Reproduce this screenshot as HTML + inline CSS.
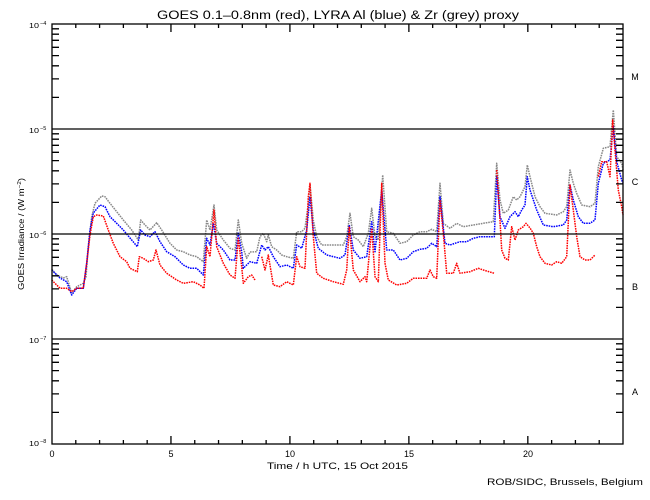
<!DOCTYPE html>
<html><head><meta charset="utf-8"><style>
html,body{margin:0;padding:0;background:#fff;}
svg{display:block;}
text{font-family:"Liberation Sans",sans-serif;fill:#000;}
</style></head><body>
<svg width="650" height="500" viewBox="0 0 650 500" xmlns="http://www.w3.org/2000/svg">
<rect x="0" y="0" width="650" height="500" fill="#fff"/>
<text x="157" y="19" font-size="11.5" textLength="362" lengthAdjust="spacingAndGlyphs">GOES 0.1–0.8nm (red), LYRA Al (blue) &amp; Zr (grey) proxy</text>

<g fill="none" stroke-linejoin="round" stroke-width="1.5" stroke-dasharray="1.6,0.9">
<polyline stroke="#888" points="51.7,269 56.7,275 63.3,278 66.7,276.7 71.7,293 76.7,286.7 83.3,283.3 86,276.7 88.3,246.7 91.7,216.7 95,203.3 101.7,196 105,196.7 110,203.3 116.7,211.7 123.3,220 131.7,230 138.3,240 140.7,220 145,225 150,230 156.7,222.7 161.7,230 170,243.3 176.7,250 183.3,251.7 190,255 196.7,256.7 203.3,261.7 206.7,220 210,230 214,205 216.7,230 223.3,240 230,248.3 235,250 238.3,220 241.7,243.3 246.7,258.3 250,252 256.7,251.7 260,236.7 263.3,233.3 266.7,241.7 268.3,235 271.7,246.7 276.7,250 281.7,255 286.7,256.7 293.3,258.3 296.7,231.7 301.7,231.7 305,228.3 308.3,203.3 310,185 313.3,220 316.7,236.7 321.7,245 333.3,245 343.3,245 346.7,236.7 350,213.3 353.3,236.7 358.3,240 363.3,246.7 368.3,233.3 371.7,208.3 375,236.7 378.3,240 382.7,175 386.7,231.7 393.3,233.3 400,243.3 406.7,241.7 413.3,235 420,231.7 426.7,231.7 431.7,229.3 436.7,231.7 440,183.3 443.3,223.3 450,228.3 456.7,223.3 463.3,226.7 473.3,225 483.3,223.3 493.3,221.7 496.7,163.3 500,200 503.3,213.3 508.3,210 513.3,196.7 516.7,200 520,196.7 525,186.7 527.3,165 530,176.7 535,196.7 540,206.7 545,213.3 556.7,215 563.3,211.7 566.7,206.7 570,170 573.3,183.3 576.7,193.3 581.7,205 590,206.7 595,203.3 598.3,166.7 603.3,148.3 610,146.7 613.3,110 616.7,156.7 621.7,163.3 623,170"/>
<polyline stroke="#00f" points="51.7,270 60,278 66.7,281.7 71.7,295 76.7,288.3 83.3,288.3 86.7,263 90,230 93.3,213 100,205 105,206.7 110,216.7 116.7,223.3 123.3,230 131.7,240 137.3,246.7 140.7,230 145,235 150,236.7 155,231.7 160,241.7 166.7,251.7 175,256.7 183.3,265 190,268.3 196.7,268.3 203.3,275 206.7,238.3 210,245 213.3,223.3 216.7,243.3 223.3,250 230,260 235,260 238.3,233.3 241.7,251.7 243.3,268.3 250,261.7 256.7,263.3 261.7,245 265,250 268.3,246.7 273.3,256.7 280,266.7 286.7,265 293.3,268.3 296.7,245 301.7,248.3 306.7,230 310,196.7 313.3,230 318.3,248.3 326.7,255 340,258.3 345,255 349.3,225 353.3,250 360,258.3 366.7,256.7 371.7,221.7 375,251.7 381.7,190 386.7,250 393.3,250 400,260 406.7,258.3 413.3,251.7 420,249.3 426.7,248.3 431.7,243.3 436.7,246.7 440,196.7 445,243.3 450,245 455,243.3 460,241.7 466.7,241.7 473.3,238.3 480,236.7 486.7,236.7 494.3,236.7 496.7,176.7 500,216.7 505,228.3 510,216.7 515,211.7 518.3,216.7 521.7,210 525,205 527.3,176.7 530,190 536.7,210 543.3,225 553.3,226.7 563.3,225 566.7,220 570,185 573.3,200 578.3,216.7 583.3,223.3 590,223.3 595,220 598.3,183.3 603.3,163.3 610,160 613.3,126.7 616.7,161.7 621.7,180 623,183.3"/>
<polyline stroke="#f00" points="51.7,280 60,288.3 66.7,288.3 71.7,291.7 76.7,288.3 83.3,288.3 86.7,263.3 90,235 93.3,216.7 96.7,215 103.3,216 108.3,230 113.3,243.3 120,256.7 126.7,261.7 130,268.3 137.3,271.7 139.3,256.7 143.3,258.3 148.3,261.7 153.3,260 156,250 160,265 166.7,273.3 176.7,280 183.3,283.3 193.3,281.7 200,285 204,288.3 206.7,246.7 210,256.7 214,210 216.7,246.7 223.3,263.3 230,275 235,278.3 238.3,238.3 241.7,266.7 243.3,283.3 248.3,276.7 251.7,275 255,280"/>
<polyline stroke="#f00" points="261.7,256.7 265,270 268.3,255 273.3,285 280,286.7 286.7,281.7 293.3,285 296.7,256.7 300,266.7 305,268.3 308.3,196.7 310,183.3 313.3,236.7 316.7,273.3 323.3,278.3 333.3,281.7 343.3,284.3 346.7,270 349.3,226.7 353.3,270 360,281.7 365,276.7 366.7,281.7 371.7,228.3 375,276.7 378.3,281.7 381.7,183.3 385,263.3 388.3,280 396.7,285 406.7,283.3 413.3,278.3 420,278.3 426.7,278.3 430,270 433.3,276.7 436.7,278.3 440,200 443.3,233.3 446.7,273.3 453.3,273.3 456.7,263.3 460,273.3 470,271.7 478.3,268.3 483.3,270 494.3,273.3"/>
<polyline stroke="#f00" points="496.7,170 500,220 501.7,250 505,258.3 508.3,260 511.7,226.7 515,240 518.3,230 523.3,226.7 526,223.3 530,228 533.3,233.3 536.7,246.7 540,256.7 545,263.3 551.7,265 556.7,261.7 561.7,263.3 566.7,256.7 570,185 573.3,210 576.7,236.7 580,256.7 585,260 590,260 595,255"/>
<polyline stroke="#f00" points="598.3,176.7 601.7,161.7 606.7,161.7 610,176.7 612.7,120 615,150 618.3,190 621.7,206.7 623,215"/>
</g>

<g stroke="#000" stroke-width="1.3" fill="none">
<rect x="52" y="24" width="571" height="420"/>
<line x1="52" y1="129" x2="623" y2="129"/>
<line x1="52" y1="234" x2="623" y2="234"/>
<line x1="52" y1="339" x2="623" y2="339"/>
<path d="M75.79,444v-4M99.58,444v-4M123.38,444v-4M147.17,444v-4M194.75,444v-4M218.54,444v-4M242.33,444v-4M266.13,444v-4M313.71,444v-4M337.5,444v-4M361.29,444v-4M385.08,444v-4M432.67,444v-4M456.46,444v-4M480.25,444v-4M504.04,444v-4M551.63,444v-4M575.42,444v-4M599.21,444v-4M170.96,444v-8M289.92,444v-8M408.88,444v-8M527.83,444v-8"/>
<path d="M75.79,24v4M99.58,24v4M123.38,24v4M147.17,24v4M194.75,24v4M218.54,24v4M242.33,24v4M266.13,24v4M313.71,24v4M337.5,24v4M361.29,24v4M385.08,24v4M432.67,24v4M456.46,24v4M480.25,24v4M504.04,24v4M551.63,24v4M575.42,24v4M599.21,24v4M170.96,24v8M289.92,24v8M408.88,24v8M527.83,24v8"/>
<path d="M52,412.4h7M52,393.9h7M52,380.8h7M52,370.6h7M52,362.3h7M52,355.3h7M52,349.2h7M52,343.8h7M52,307.4h7M52,288.9h7M52,275.8h7M52,265.6h7M52,257.3h7M52,250.3h7M52,244.2h7M52,238.8h7M52,202.4h7M52,183.9h7M52,170.8h7M52,160.6h7M52,152.3h7M52,145.3h7M52,139.2h7M52,133.8h7M52,97.4h7M52,78.9h7M52,65.8h7M52,55.6h7M52,47.3h7M52,40.3h7M52,34.2h7M52,28.8h7"/>
<path d="M623,412.4h-7M623,393.9h-7M623,380.8h-7M623,370.6h-7M623,362.3h-7M623,355.3h-7M623,349.2h-7M623,343.8h-7M623,307.4h-7M623,288.9h-7M623,275.8h-7M623,265.6h-7M623,257.3h-7M623,250.3h-7M623,244.2h-7M623,238.8h-7M623,202.4h-7M623,183.9h-7M623,170.8h-7M623,160.6h-7M623,152.3h-7M623,145.3h-7M623,139.2h-7M623,133.8h-7M623,97.4h-7M623,78.9h-7M623,65.8h-7M623,55.6h-7M623,47.3h-7M623,40.3h-7M623,34.2h-7M623,28.8h-7"/>
</g>

<g font-size="7.5">
<text x="29" y="28" textLength="10" lengthAdjust="spacingAndGlyphs">10</text><text x="40" y="25" font-size="5.5">−4</text>
<text x="29" y="133" textLength="10" lengthAdjust="spacingAndGlyphs">10</text><text x="40" y="130" font-size="5.5">−5</text>
<text x="29" y="238" textLength="10" lengthAdjust="spacingAndGlyphs">10</text><text x="40" y="235" font-size="5.5">−6</text>
<text x="29" y="343" textLength="10" lengthAdjust="spacingAndGlyphs">10</text><text x="40" y="340" font-size="5.5">−7</text>
<text x="29" y="446" textLength="10" lengthAdjust="spacingAndGlyphs">10</text><text x="40" y="443" font-size="5.5">−8</text>
</g>

<g font-size="9" text-anchor="middle">
<text x="52" y="457">0</text>
<text x="171" y="457">5</text>
<text x="290" y="457">10</text>
<text x="409" y="457">15</text>
<text x="528" y="457">20</text>
<text x="635" y="80">M</text>
<text x="635" y="185">C</text>
<text x="635" y="290">B</text>
<text x="635" y="395">A</text>
</g>

<text x="267" y="469" font-size="9.5" textLength="141" lengthAdjust="spacingAndGlyphs">Time / h UTC, 15 Oct 2015</text>
<text x="487" y="485" font-size="9.5" textLength="156" lengthAdjust="spacingAndGlyphs">ROB/SIDC, Brussels, Belgium</text>
<text transform="translate(24,290) rotate(-90)" font-size="8" textLength="112" lengthAdjust="spacingAndGlyphs">GOES Irradiance / (W m<tspan font-size="5.5" dy="-3">−2</tspan><tspan dy="3">)</tspan></text>
</svg>
</body></html>
